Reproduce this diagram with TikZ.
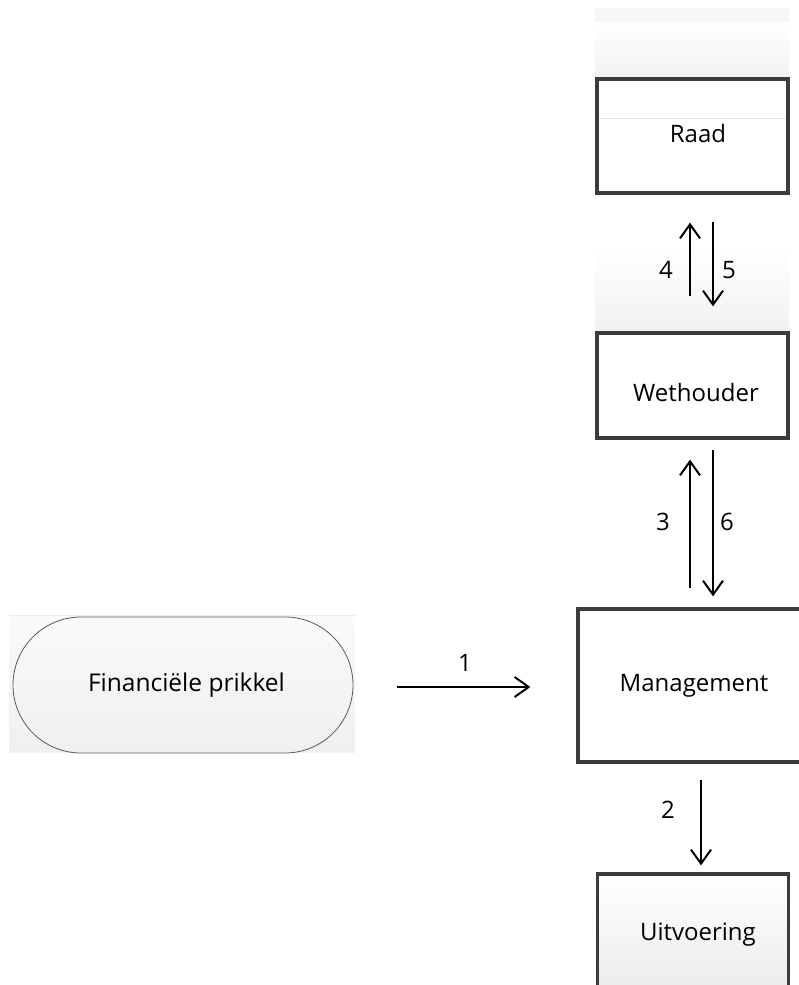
\documentclass[tikz,border=0pt]{standalone}
\usepackage{fontspec}
\setmainfont{Open Sans}
\usetikzlibrary{arrows.meta,shapes.misc}
\definecolor{boxline}{HTML}{3C3C3C}
\definecolor{bandtop}{HTML}{FDFDFD}
\definecolor{bandbot}{HTML}{F1F1F1}
\tikzset{
  box/.style={draw=boxline, line width=3.3pt, fill=white, minimum width=191pt, inner sep=0pt, font=\fontsize{24}{28}\selectfont},
  arr/.style={line width=2pt, -{Straight Barb[length=14pt,width=20pt,line width=2pt]}},
  lbl/.style={font=\fontsize{24}{28}\selectfont, inner sep=0pt},
  band/.style={top color=bandtop, bottom color=bandbot, draw=none},
}
\begin{document}
\begin{tikzpicture}[x=1pt,y=-1pt]
\useasboundingbox (0,0) rectangle (799,985);
% background bands
\fill[color=black!3] (595,8) rectangle (789,22);
\shade[band] (595,30) rectangle (789,79);
\shade[band, top color=white] (595,247) rectangle (789,333);
\shade[band, top color=black!2, bottom color=black!6] (9,615) rectangle (355,752);
\draw[black!8, line width=1pt] (9,615) -- (355,615);
% nodes
\node[box, minimum height=114pt, label={[lbl, xshift=5.5pt, yshift=3pt]center:Raad}] (R) at (692.5,136) {};
\draw[black!9, line width=1pt] (599,118) -- (786,118);
\node[box, minimum height=105pt, label={[lbl, xshift=3.5pt, yshift=-6.5pt]center:Wethouder}] (W) at (692.5,385.5) {};
\node[box, minimum width=232pt, minimum height=153pt] (M) at (694,685.5) {Management};
\node[box, minimum height=122pt, fill=none, top color=white, bottom color=black!8, label={[lbl, xshift=5pt]center:Uitvoering}] (U) at (693,935) {};
\node[draw=black!65, line width=0.8pt, rounded corners=68pt, minimum width=340pt, minimum height=136pt, inner sep=0pt, font=\fontsize{24.5}{28}\selectfont] (F) at (183,685) {\hspace*{7pt}Financiële prikkel};
% connectors
\draw[arr, shorten <=44pt, shorten >=46pt] ([yshift=-2pt]F.east) -- ([yshift=-1.5pt]M.west);
\draw[arr, shorten <=16pt, shorten >=7pt] ([xshift=7pt]M.south) -- ([xshift=8pt]U.north);
\draw[arr, shorten <=19pt, shorten >=20pt] ([xshift=-4pt]M.north) -- ([xshift=-2.5pt]W.south);
\draw[arr, shorten <=10pt, shorten >=11pt] ([xshift=20.5pt]W.south) -- ([xshift=19pt]M.north);
\draw[arr, shorten <=35pt, shorten >=28pt] ([xshift=-2.5pt]W.north) -- ([xshift=-2.5pt]R.south);
\draw[arr, shorten <=27pt, shorten >=25pt] ([xshift=20.5pt]R.south) -- ([xshift=20.5pt]W.north);
% labels
\node[lbl] (l1) at (465,663) {1};
\node[lbl] (l2) at (668,810) {2};
\node[lbl] (l3) at (663,522) {3};
\node[lbl] (l4) at (666,270) {4};
\node[lbl] (l5) at (729,270) {5};
\node[lbl] (l6) at (727,522) {6};
\end{tikzpicture}
\end{document}
